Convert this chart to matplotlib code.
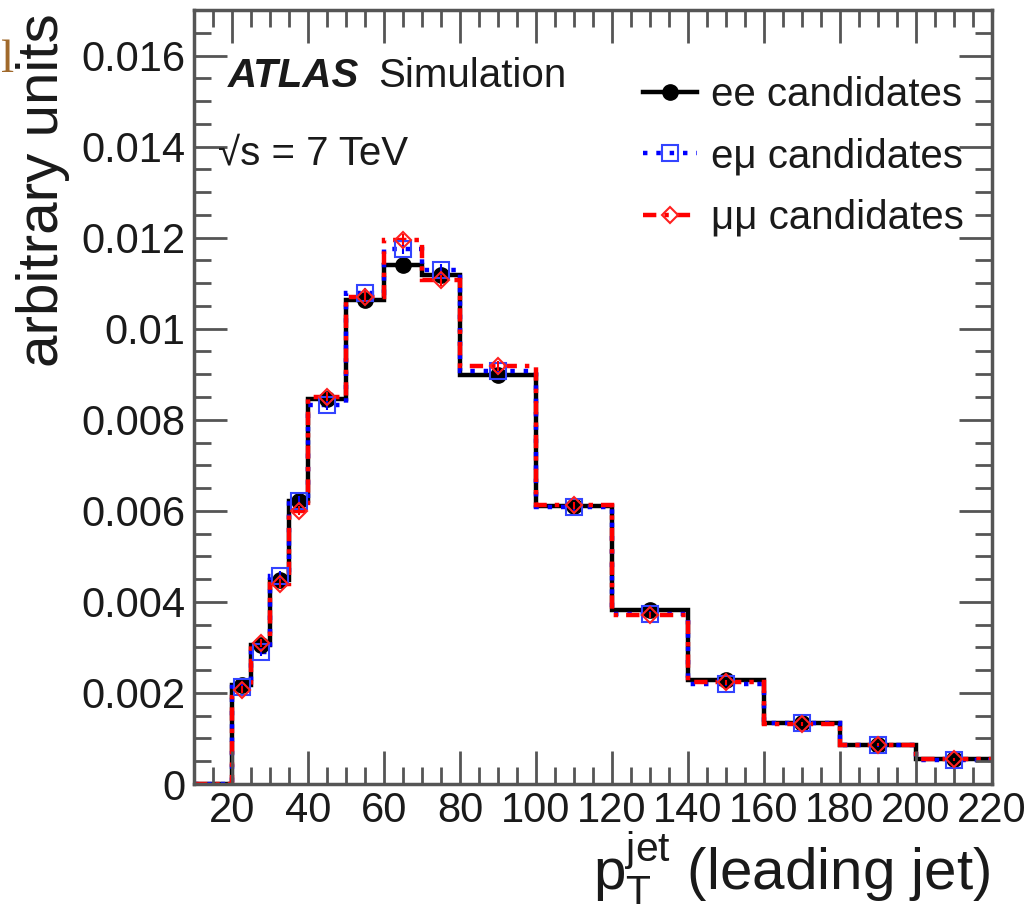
import numpy as np
import matplotlib
matplotlib.use("Agg")
import matplotlib.pyplot as plt
from matplotlib.lines import Line2D
from matplotlib.ticker import MultipleLocator

plt.rcParams['font.family'] = ['Liberation Sans', 'DejaVu Sans']
plt.rcParams['mathtext.fontset'] = 'custom'
plt.rcParams['mathtext.rm'] = 'Liberation Sans'
plt.rcParams['mathtext.it'] = 'Liberation Sans:italic'

# bin edges of leading-jet pT (GeV)
edges = [10, 20, 25, 30, 35, 40, 50, 60, 70, 80, 100, 120, 140, 160, 180, 200, 220]
# normalised distributions
ee = [0, 0.00217, 0.00306, 0.00449, 0.00621, 0.00846, 0.01062, 0.01139, 0.01117, 0.00899,
      0.00610, 0.00383, 0.00229, 0.00134, 0.00086, 0.00055]
emu = [0, 0.00212, 0.00290, 0.00457, 0.00622, 0.00832, 0.01078, 0.01176, 0.01130, 0.00908,
       0.00608, 0.00373, 0.00220, 0.00133, 0.00085, 0.00053]
mumu = [0, 0.00207, 0.00309, 0.00440, 0.00600, 0.00851, 0.01070, 0.01195, 0.01106, 0.00918,
        0.00612, 0.00371, 0.00223, 0.00132, 0.00086, 0.00054]
err = [0, 0.00008, 0.00009, 0.0001, 0.0001, 0.0001, 0.00012, 0.00012, 0.00012, 0.0001,
       0.00008, 0.00007, 0.00005, 0.00004, 0.00003, 0.00003]

xticks = [20, 40, 60, 80, 100, 120, 140, 160, 180, 200, 220]
yticks = [0, 0.002, 0.004, 0.006, 0.008, 0.01, 0.012, 0.014, 0.016]
ylabels = ['0', '0.002', '0.004', '0.006', '0.008', '0.01', '0.012', '0.014', '0.016']

W, H = 1036, 921
fig = plt.figure(figsize=(W / 100, H / 100), dpi=100)
ax = fig.add_axes([194 / W, (H - 784) / H, (992 - 194) / W, (784 - 10) / H])

edges = np.array(edges)
centers = 0.5 * (edges[:-1] + edges[1:])
frame = '#555555'
txt = '#1a1a1a'

styles = [
    (ee, 'black', '-', dict(marker='o', ms=11, mfc='black', mec='black'), 'ee candidates'),
    (emu, '#0000ff', (0, (1, 2)), dict(marker='s', ms=12, mfc='none', mec='#3344ff', mew=1.5), 'e\u03bc candidates'),
    (mumu, '#ff0000', (0, (3, 1.8, 1, 1.8)), dict(marker='D', ms=8, mfc='none', mec='#ff2020', mew=1.5), '\u03bc\u03bc candidates'),
]

handles = []
for vals, col, ls, mk, lab in styles:
    vals = np.array(vals)
    ax.stairs(vals, edges, color=col, linestyle=ls, linewidth=3.2, baseline=None)
    m = vals > 0
    ax.errorbar(centers[m], vals[m], yerr=np.array(err)[m], fmt='none', ecolor=col, elinewidth=1.5)
    ax.plot(centers[m], vals[m], linestyle='none', **mk)
    handles.append(Line2D([0], [0], color=col, linestyle=ls, linewidth=3.2, **mk))

ax.set_xlim(10, 220)
ax.set_ylim(0, 0.017)
ax.set_xticks(xticks)
ax.xaxis.set_minor_locator(MultipleLocator(5))
ax.set_yticks(yticks)
ax.set_yticklabels(ylabels)
ax.yaxis.set_minor_locator(MultipleLocator(0.0005))
ax.tick_params(which='both', direction='in', top=True, right=True, color=frame, width=2,
               labelsize=30, labelcolor=txt)
ax.tick_params(which='major', length=24)
ax.tick_params(which='minor', length=12)
ax.tick_params(axis='x', pad=5)
ax.tick_params(axis='y', pad=6)
for s in ax.spines.values():
    s.set_color(frame)
    s.set_linewidth(2.5)

fig.text(43 / W, 1 - 13 / H, 'arbitrary units', rotation=90, ha='center', va='top',
         fontsize=42, color=txt)
fig.text(990 / W, 1 - 890 / H, r'$\mathrm{p}_{\mathrm{T}}^{\mathrm{jet}}$ (leading jet)',
         ha='right', va='baseline', fontsize=42, color=txt)

fig.text(228 / W, 1 - 87 / H, 'ATLAS', fontsize=29, fontweight='bold', fontstyle='italic',
         va='baseline', color=txt)
fig.text(378 / W, 1 - 87 / H, 'Simulation', fontsize=29, va='baseline', color=txt)
fig.text(218 / W, 1 - 165 / H, '\u221as = 7 TeV', fontsize=29, va='baseline', color=txt)

leg = ax.legend(handles, [s[4] for s in styles], loc='upper left', frameon=False, fontsize=29,
                bbox_to_anchor=(643 / W, 1 - 76 / H), bbox_transform=fig.transFigure,
                handlelength=1.35, handletextpad=0.35, labelspacing=0.58, borderpad=0,
                borderaxespad=0)
for t in leg.get_texts():
    t.set_color(txt)

fig.text(1 / W, 1 - 72 / H, 'l', fontsize=34, ha='left', va='baseline',
         family='Liberation Serif', color='#a0692b')

fig.savefig('out.png', dpi=100, facecolor='white')
